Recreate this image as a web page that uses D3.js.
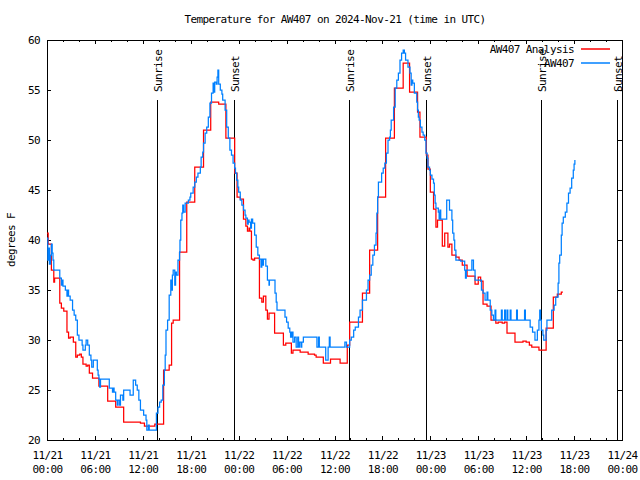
<!DOCTYPE html>
<html>
<head>
<meta charset="utf-8">
<script src="https://cdn.jsdelivr.net/npm/d3@7"></script>
<style>
  body { margin: 0; background: #fff; }
  svg { display: block; }
  text { font-family: "DejaVu Sans Mono", "Liberation Mono", monospace; font-size: 11px; letter-spacing: -0.6px; fill: #000; }
</style>
</head>
<body>
<svg id="chart" width="640" height="480"></svg>
<script>
// ---- DATA (hours since 2024-11-21 00:00 UTC) ----
const titleText = "Temperature for AW407 on 2024-Nov-21 (time in UTC)";
const yLabelText = "degrees F";
const seriesNames = ["AW407 Analysis", "AW407"];
const seriesColors = ["#ff0000", "#0080ff"];

const analysisHours = [0.0,0.15,0.55,0.85,0.95,1.6,1.8,2.1,2.5,2.7,2.9,3.3,3.6,3.8,4.1,4.3,4.5,4.9,5.1,5.3,5.7,6.5,7.6,8.6,9.6,11.7,12.2,13.5,14.6,15.3,15.6,15.8,16.6,17.5,18.5,19.6,20.5,21.5,22.4,23.5,23.8,24.2,24.6,24.9,25.1,25.3,25.4,25.6,25.8,26.0,26.6,26.9,27.1,27.4,27.6,27.8,28.5,29.6,29.9,30.6,30.8,31.7,32.7,33.5,33.7,34.6,35.5,36.7,37.6,37.9,38.6,39.5,40.4,41.4,42.4,43.5,44.6,45.4,46.4,46.7,47.5,47.7,48.0,48.4,48.7,48.9,49.5,49.8,50.2,50.4,50.7,51.2,51.6,52.0,52.6,53.6,54.0,54.3,54.6,55.1,55.6,56.2,56.5,57.0,57.3,57.6,58.6,59.6,60.0,60.4,60.7,61.6,62.5,63.4,63.9,64.4,64.6];
const analysisTemps = [40.7,39.6,37.0,35.8,36.2,33.7,33.2,32.9,30.8,30.2,30.3,29.8,28.3,28.5,28.6,28.3,27.6,27.4,27.5,26.7,26.2,25.4,23.9,23.3,21.8,21.7,21.4,21.6,27.0,27.5,31.7,32.0,38.8,43.8,47.3,51.0,53.8,53.6,50.2,46.7,44.3,44.1,42.1,41.4,40.9,41.2,40.9,38.1,38.0,38.2,34.2,33.8,34.4,33.0,32.1,32.7,30.7,29.5,29.7,28.7,29.0,28.8,28.6,28.5,28.3,27.7,28.1,27.7,29.5,31.8,31.8,34.7,39.0,44.3,50.2,55.2,57.7,54.8,52.8,50.3,48.5,47.1,44.8,43.1,41.3,42.0,39.4,40.7,39.3,39.6,38.5,38.3,38.0,37.5,36.4,35.6,36.3,35.9,33.6,33.4,32.0,31.7,31.8,31.7,31.8,30.7,29.8,29.9,29.8,29.5,29.3,29.0,31.2,34.3,34.6,34.8,34.8];

const obsHours = [0.0,0.1,0.2,0.3,0.45,0.55,0.65,0.75,0.85,1.6,1.8,1.9,2.0,2.3,2.5,2.6,2.7,2.9,3.2,3.4,3.6,3.8,4.0,4.4,4.5,4.8,4.9,5.1,5.3,5.5,5.6,5.8,6.3,6.4,6.5,6.6,6.7,7.8,8.2,8.3,8.4,8.6,8.8,8.9,9.1,9.2,9.5,9.6,10.4,10.8,11.1,11.3,11.5,11.7,12.1,12.4,12.5,12.7,12.8,13.7,13.9,14.1,14.3,14.5,14.7,14.8,14.9,15.1,15.3,15.5,15.6,15.7,15.8,16.0,16.1,16.2,16.4,16.6,16.65,16.75,16.9,17.0,17.1,17.3,17.7,17.9,18.0,18.3,18.5,18.7,18.9,19.2,19.3,19.5,19.6,19.8,20.0,20.2,20.4,20.6,20.8,20.9,21.0,21.2,21.3,21.4,21.5,21.7,21.9,22.0,22.3,22.5,22.7,22.9,23.1,23.3,23.5,23.6,23.75,23.9,24.0,24.2,24.4,24.6,24.8,24.9,25.1,25.2,25.3,25.5,25.6,25.75,26.0,26.2,26.4,26.6,26.8,26.9,27.0,27.1,27.4,27.6,27.8,27.85,28.55,28.7,28.8,29.6,29.8,30.0,30.2,30.4,30.5,30.65,30.8,31.0,31.2,31.4,31.5,31.6,31.8,31.9,32.1,33.8,34.0,34.1,34.9,35.2,35.35,35.45,37.3,37.5,37.9,38.1,38.4,38.6,39.0,39.2,39.5,40.0,40.2,40.4,40.6,40.8,41.0,41.2,41.3,41.4,41.5,41.9,42.1,42.3,42.5,42.7,42.9,43.0,43.1,43.4,43.6,43.8,44.0,44.2,44.4,44.6,44.75,44.9,45.2,45.45,45.6,45.7,45.8,46.0,46.3,46.4,46.5,46.6,46.75,46.95,47.1,47.3,47.45,47.6,47.7,47.9,48.0,48.2,48.4,48.5,48.6,48.7,49.0,49.1,49.2,49.3,50.05,50.4,50.7,50.8,50.95,51.05,51.2,51.8,52.3,52.4,52.5,53.2,53.4,53.6,54.4,54.6,54.85,55.1,55.2,55.5,55.7,55.9,56.1,56.2,56.9,57.0,57.3,57.4,57.6,57.7,58.0,58.1,58.8,58.9,59.8,59.9,60.5,60.8,61.1,61.4,61.6,61.7,61.8,61.9,62.1,62.2,62.5,62.6,63.2,63.5,63.7,64.0,64.1,64.2,64.4,64.5,64.65,64.9,65.1,65.3,65.5,65.7,65.9,66.0,66.1];
const obsTemps = [40.2,38.0,39.2,37.6,38.5,39.6,38.7,38.0,37.0,36.2,35.5,36.0,35.4,35.0,34.4,35.0,34.4,34.0,33.0,32.5,32.0,30.5,30.0,29.5,29.0,29.5,30.0,29.5,28.5,28.0,27.3,28.0,27.0,26.5,26.1,25.3,26.1,25.2,24.8,25.2,24.8,24.0,23.5,24.0,23.5,24.5,24.0,25.0,24.5,26.0,25.5,25.0,24.0,23.0,22.5,22.0,21.0,21.5,21.0,22.7,23.3,23.8,24.0,25.5,27.0,28.5,31.0,32.0,34.5,36.0,35.0,36.5,37.0,35.5,36.8,36.5,38.0,38.8,40.0,42.0,42.7,43.5,42.8,43.7,44.0,44.3,44.7,45.3,45.8,46.3,46.7,47.3,48.3,48.8,49.7,50.7,51.3,52.3,53.7,54.7,55.7,54.8,55.8,55.6,56.3,57.0,55.6,55.0,54.6,54.0,53.0,51.3,50.2,49.0,48.5,47.7,47.2,46.7,46.0,45.3,44.8,44.0,43.5,43.0,42.5,42.2,41.6,42.0,41.8,41.2,42.1,41.7,40.5,39.3,38.5,38.1,37.3,38.1,37.5,38.1,37.4,36.0,35.5,36.0,34.7,33.8,33.0,33.0,32.3,31.8,31.2,30.8,30.3,30.8,29.8,30.3,29.3,30.3,29.3,29.8,29.3,29.8,30.3,29.3,30.3,29.3,28.0,29.3,30.3,29.3,29.8,29.3,30.0,30.3,31.0,31.3,32.3,33.0,34.0,35.0,36.0,36.5,37.5,38.5,39.5,40.7,42.7,44.3,45.8,46.7,47.2,47.7,48.7,50.0,50.3,51.0,52.0,53.3,55.2,56.0,56.7,58.0,58.7,59.0,58.7,58.0,57.3,56.7,55.5,56.0,55.7,54.7,53.8,53.0,52.3,52.0,51.3,50.8,50.5,50.0,48.7,48.2,47.3,47.0,46.5,46.1,45.7,44.5,43.7,43.2,42.8,42.1,43.0,42.1,44.0,43.0,42.0,40.7,40.0,39.0,38.0,37.9,37.0,36.2,37.0,38.0,37.0,36.0,35.0,34.7,34.0,34.8,34.0,33.0,32.5,32.0,33.0,32.0,33.0,32.0,33.0,32.0,33.0,32.0,33.0,32.0,33.0,32.0,33.0,32.0,31.3,30.8,30.0,31.0,32.0,33.0,32.0,31.0,30.5,30.0,31.0,32.0,33.0,33.5,34.3,35.7,37.7,38.5,40.5,41.7,42.3,42.8,43.7,44.7,45.2,46.2,47.0,47.6,48.0];

const sunriseHours = [13.82, 37.85, 61.88];
const sunsetHours = [23.45, 47.43, 71.42];
const yTicks = [20, 25, 30, 35, 40, 45, 50, 55, 60];
const xMajorHours = [0, 6, 12, 18, 24, 30, 36, 42, 48, 54, 60, 66, 72];
const xMinorHours = [2, 4, 8, 10, 14, 16, 20, 22, 26, 28, 32, 34, 38, 40, 44, 46, 50, 52, 56, 58, 62, 64, 68, 70];

// ---- CHART ----
const base = Date.UTC(2024, 10, 21, 0, 0, 0);
const toDate = h => new Date(base + h * 3600e3);
const L = 47, R = 622, T = 40, B = 440;

const svg = d3.select("#chart");
const x = d3.scaleUtc().domain([toDate(0), toDate(72)]).range([L, R]);
const y = d3.scaleLinear().domain([20, 60]).range([B, T]);

function clean(g) {
  g.select(".domain").remove();
  g.attr("font-family", null).attr("font-size", null);
  g.selectAll("line").attr("stroke", "#000").attr("shape-rendering", "crispEdges");
}

// y axes
svg.append("g").attr("transform", `translate(${L},0)`)
  .call(d3.axisLeft(y).tickValues(yTicks).tickSizeInner(-4).tickSizeOuter(0).tickPadding(7).tickFormat(d3.format("d")))
  .call(clean);
svg.append("g").attr("transform", `translate(${R},0)`)
  .call(d3.axisRight(y).tickValues(yTicks).tickSizeInner(-4).tickSizeOuter(0).tickFormat(""))
  .call(clean);

// x axes
const fmtDate = d3.utcFormat("%m/%d"), fmtTime = d3.utcFormat("%H:%M");
const xb = svg.append("g").attr("transform", `translate(0,${B})`)
  .call(d3.axisBottom(x).tickValues(xMajorHours.map(toDate)).tickSizeInner(-4).tickSizeOuter(0).tickPadding(10).tickFormat(""))
  .call(clean);
xb.selectAll(".tick text").each(function(d) {
  const t = d3.select(this).attr("y", null).attr("dy", null);
  t.append("tspan").attr("x", 0).attr("y", 19).text(fmtDate(d));
  t.append("tspan").attr("x", 0).attr("y", 33).text(fmtTime(d));
});
svg.append("g").attr("transform", `translate(0,${B})`)
  .call(d3.axisBottom(x).tickValues(xMinorHours.map(toDate)).tickSizeInner(-2).tickSizeOuter(0).tickFormat(""))
  .call(clean);
svg.append("g").attr("transform", `translate(0,${T})`)
  .call(d3.axisTop(x).tickValues(xMajorHours.map(toDate)).tickSizeInner(-4).tickSizeOuter(0).tickFormat(""))
  .call(clean);
svg.append("g").attr("transform", `translate(0,${T})`)
  .call(d3.axisTop(x).tickValues(xMinorHours.map(toDate)).tickSizeInner(-2).tickSizeOuter(0).tickFormat(""))
  .call(clean);

// frame
svg.append("rect").attr("x", L + 0.5).attr("y", T + 0.5).attr("width", R - L).attr("height", B - T)
  .attr("fill", "none").attr("stroke", "#000").attr("shape-rendering", "crispEdges");

// sunrise / sunset
const events = sunriseHours.map(h => ({h, label: "Sunrise"})).concat(sunsetHours.map(h => ({h, label: "Sunset"})));
events.forEach(e => {
  const ex = Math.round(x(toDate(e.h))) + 0.5;
  svg.append("line").attr("x1", ex).attr("x2", ex).attr("y1", y(20)).attr("y2", y(54))
    .attr("stroke", "#000").attr("shape-rendering", "crispEdges");
  svg.append("text").attr("transform", `translate(${ex + 1},${y(54) - 8}) rotate(-90)`)
    .attr("dy", "0.35em").attr("text-anchor", "start").text(e.label);
});

// series
const line = d3.line().x(d => x(toDate(d[0]))).y(d => y(d[1])).curve(d3.curveStepAfter);
const analysis = analysisHours.map((h, i) => [h, analysisTemps[i]]);
const obs = obsHours.map((h, i) => [h, obsTemps[i]]);
svg.append("path").attr("d", line(analysis)).attr("fill", "none").attr("stroke", seriesColors[0])
  .attr("stroke-width", 1.25);
svg.append("path").attr("d", line(obs)).attr("fill", "none").attr("stroke", seriesColors[1])
  .attr("stroke-width", 1.25);

// legend
seriesNames.forEach((name, i) => {
  const ly = 49 + i * 14;
  svg.append("text").attr("x", 574).attr("y", ly).attr("dy", "0.35em").attr("text-anchor", "end").text(name);
  svg.append("line").attr("x1", 581).attr("x2", 610).attr("y1", ly).attr("y2", ly)
    .attr("stroke", seriesColors[i]).attr("stroke-width", 1.5);
});

// title & y label
svg.append("text").attr("x", 335).attr("y", 19).attr("dy", "0.35em").attr("text-anchor", "middle").text(titleText);
svg.append("text").attr("transform", "translate(11,240) rotate(-90)").attr("dy", "0.35em").attr("text-anchor", "middle").text(yLabelText);
</script>
</body>
</html>
